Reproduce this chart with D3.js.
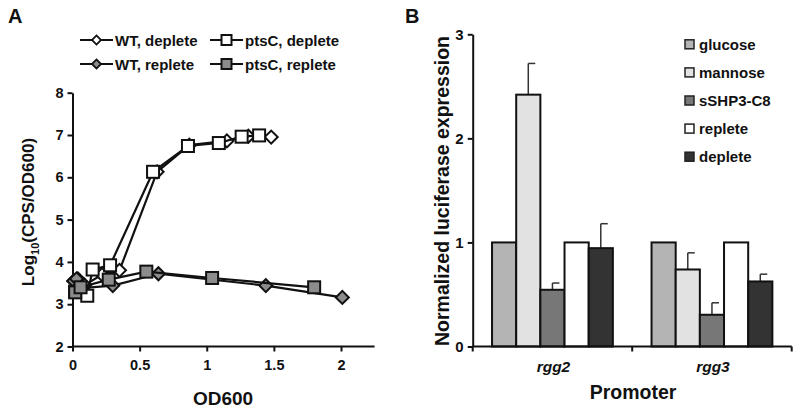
<!DOCTYPE html>
<html><head><meta charset="utf-8">
<script src="https://cdn.jsdelivr.net/npm/d3@7"></script>
<style>
body{margin:0;background:#fff;}
text{font-family:"Liberation Sans",Arial,sans-serif;font-weight:bold;fill:#111;}
</style></head>
<body><svg id="c" width="800" height="413"></svg>
<script>
// ---------- Panel A data ----------
const wtDepleteX  = [0.01, 0.04, 0.09, 0.22, 0.35, 0.63, 0.87, 1.15, 1.31, 1.48];
const wtDepleteY  = [3.55, 3.6, 3.45, 3.7, 3.8, 6.13, 6.76, 6.86, 6.97, 6.95];
const ptsDepleteX = [0.02, 0.06, 0.11, 0.15, 0.28, 0.60, 0.86, 1.09, 1.26, 1.39];
const ptsDepleteY = [3.3, 3.3, 3.2, 3.82, 3.92, 6.13, 6.74, 6.81, 6.96, 6.99];
const wtRepleteX  = [0.01, 0.03, 0.07, 0.30, 0.64, 1.44, 2.01];
const wtRepleteY  = [3.55, 3.6, 3.38, 3.44, 3.72, 3.44, 3.16];
const ptsRepleteX = [0.02, 0.06, 0.27, 0.55, 1.04, 1.80];
const ptsRepleteY = [3.28, 3.4, 3.58, 3.77, 3.62, 3.40];
const xTicksA = [0, 0.5, 1, 1.5, 2];
const yTicksA = [2, 3, 4, 5, 6, 7, 8];

// ---------- Panel B data ----------
const promoters = ["rgg2", "rgg3"];
const conditions = ["glucose", "mannose", "sSHP3-C8", "replete", "deplete"];
const condColors = ["#b4b4b4", "#e2e2e2", "#777777", "#ffffff", "#333333"];
const rgg2Values = [1, 2.42, 0.545, 1, 0.945];
const rgg2Errors = [0, 0.30, 0.065, 0, 0.235];
const rgg3Values = [1, 0.74, 0.305, 1, 0.625];
const rgg3Errors = [0, 0.16, 0.115, 0, 0.07];
const yTicksB = [0, 1, 2, 3];

const svg = d3.select("#c");

// ================= Panel A =================
const xA = d3.scaleLinear().domain([0, 2]).range([72.5, 341]);
const yA = d3.scaleLinear().domain([2, 8]).range([346.5, 92.7]);
const gA = svg.append("g");

svg.append("text").attr("x", 8).attr("y", 23).style("font-size", "20px").text("A");

// axes
const axAx = gA.append("g").attr("transform", `translate(0,${yA(2)})`)
  .call(d3.axisBottom(xA).tickValues(xTicksA).tickFormat(d3.format("")).tickSize(5).tickSizeOuter(0));
axAx.select(".domain").attr("d", `M${xA(0)},0H${xA(2.25)}`);
const ayAx = gA.append("g").attr("transform", `translate(${xA(0)},0)`)
  .call(d3.axisLeft(yA).tickValues(yTicksA).tickFormat(d3.format("d")).tickSize(5).tickSizeOuter(0));
[axAx, ayAx].forEach(a => {
  a.select(".domain").attr("stroke", "#111").attr("stroke-width", 2);
  a.selectAll(".tick line").attr("stroke", "#111").attr("stroke-width", 2);
  a.selectAll(".tick text").style("font-size", "14.5px").attr("fill", "#111")
   .style("font-family", "Liberation Sans, Arial").style("font-weight", "bold");
});
axAx.selectAll(".tick text").attr("dy", "1.05em");
ayAx.selectAll(".tick text").attr("x", -9);

// axis titles
svg.append("text").attr("x", 223).attr("y", 405).attr("text-anchor", "middle")
  .style("font-size", "19px").text("OD600");
const yt = svg.append("text").attr("transform", `translate(34,212) rotate(-90)`)
  .attr("text-anchor", "middle").style("font-size", "17px");
yt.append("tspan").text("Log");
yt.append("tspan").text("10").style("font-size", "11px").attr("dy", 5);
yt.append("tspan").text("(CPS/OD600)").attr("dy", -5);

function drawSeries(xs, ys, shape, fill) {
  const pts = xs.map((x, i) => [xA(x), yA(ys[i])]);
  gA.append("path").attr("d", d3.line()(pts)).attr("fill", "none")
    .attr("stroke", "#111").attr("stroke-width", 2.2);
  pts.forEach(p => {
    if (shape === "sq") {
      gA.append("rect").attr("x", p[0] - 6).attr("y", p[1] - 6).attr("width", 12).attr("height", 12)
        .attr("fill", fill).attr("stroke", "#111").attr("stroke-width", 2);
    } else {
      gA.append("path").attr("transform", `translate(${p[0]},${p[1]}) rotate(45)`)
        .attr("d", `M-4.6,-4.6H4.6V4.6H-4.6Z`)
        .attr("fill", fill).attr("stroke", "#111").attr("stroke-width", 2);
    }
  });
}
drawSeries(wtDepleteX, wtDepleteY, "dm", "#ffffff");
drawSeries(wtRepleteX, wtRepleteY, "dm", "#8c8c8c");
drawSeries(ptsDepleteX, ptsDepleteY, "sq", "#ffffff");
drawSeries(ptsRepleteX, ptsRepleteY, "sq", "#8c8c8c");

// legend A
const legA = [
  {label: "WT, deplete", shape: "dm", fill: "#fff", x: 80, y: 40},
  {label: "ptsC, deplete", shape: "sq", fill: "#fff", x: 210, y: 40},
  {label: "WT, replete", shape: "dm", fill: "#8c8c8c", x: 80, y: 64},
  {label: "ptsC, replete", shape: "sq", fill: "#8c8c8c", x: 210, y: 64}
];
legA.forEach(d => {
  svg.append("line").attr("x1", d.x).attr("x2", d.x + 33).attr("y1", d.y).attr("y2", d.y)
    .attr("stroke", "#111").attr("stroke-width", 2);
  const cx = d.x + 16.5;
  if (d.shape === "sq") {
    svg.append("rect").attr("x", cx - 5).attr("y", d.y - 5).attr("width", 10).attr("height", 10)
      .attr("fill", d.fill).attr("stroke", "#111").attr("stroke-width", 2);
  } else {
    svg.append("path").attr("transform", `translate(${cx},${d.y}) rotate(45)`)
      .attr("d", "M-3.2,-3.2H3.2V3.2H-3.2Z").attr("fill", d.fill).attr("stroke", "#111").attr("stroke-width", 1.8);
  }
  svg.append("text").attr("x", d.x + 35).attr("y", d.y + 5.5).style("font-size", "15px").text(d.label);
});

// ================= Panel B =================
svg.append("text").attr("x", 405).attr("y", 23).style("font-size", "20px").text("B");
const xB = d3.scaleBand().domain(promoters).range([472.7, 791.7]).paddingInner(0).paddingOuter(0);
const xInner = d3.scaleBand().domain(conditions).range([0, xB.bandwidth()]).paddingOuter(0.8).paddingInner(0);
const yB = d3.scaleLinear().domain([0, 3]).range([346.5, 34.3]);
const gB = svg.append("g");

const valuesBy = {rgg2: rgg2Values, rgg3: rgg3Values};
const errorsBy = {rgg2: rgg2Errors, rgg3: rgg3Errors};
promoters.forEach(p => {
  conditions.forEach((c, i) => {
    const v = valuesBy[p][i], e = errorsBy[p][i];
    const x0 = xB(p) + xInner(c), w = xInner.bandwidth();
    if (e > 0) {
      const cx = x0 + w / 2;
      gB.append("line").attr("x1", cx).attr("x2", cx).attr("y1", yB(v)).attr("y2", yB(v + e))
        .attr("stroke", "#333").attr("stroke-width", 1.5);
      gB.append("line").attr("x1", cx).attr("x2", cx + 7).attr("y1", yB(v + e)).attr("y2", yB(v + e))
        .attr("stroke", "#333").attr("stroke-width", 1.5);
    }
    gB.append("rect").attr("x", x0).attr("y", yB(v)).attr("width", w).attr("height", yB(0) - yB(v))
      .attr("fill", condColors[i]).attr("stroke", "#111").attr("stroke-width", 2);
  });
});

const byAx = gB.append("g").attr("transform", `translate(472.7,0)`)
  .call(d3.axisLeft(yB).tickValues(yTicksB).tickFormat(d3.format("d")).tickSize(5).tickSizeOuter(0));
const bxAx = gB.append("g").attr("transform", `translate(0,${yB(0)})`);
bxAx.append("line").attr("x1", 472.7).attr("x2", 791.7).attr("stroke", "#111").attr("stroke-width", 2);
[472.7, 632.2, 791.7].forEach(x => bxAx.append("line").attr("x1", x).attr("x2", x).attr("y1", 0).attr("y2", 5)
  .attr("stroke", "#111").attr("stroke-width", 2));
byAx.select(".domain").attr("stroke", "#111").attr("stroke-width", 2);
byAx.selectAll(".tick line").attr("stroke", "#111").attr("stroke-width", 2);
byAx.selectAll(".tick text").style("font-size", "15px").attr("fill", "#111").attr("x", -9)
  .style("font-family", "Liberation Sans, Arial").style("font-weight", "bold");

promoters.forEach(p => {
  svg.append("text").attr("x", xB(p) + xB.bandwidth() / 2 + 1).attr("y", 372).attr("text-anchor", "middle")
    .style("font-size", "15.5px").style("font-style", "italic").text(p);
});
svg.append("text").attr("x", 633).attr("y", 399).attr("text-anchor", "middle")
  .style("font-size", "19.5px").text("Promoter");
svg.append("text").attr("transform", `translate(449,191) rotate(-90)`).attr("text-anchor", "middle")
  .style("font-size", "19.5px").text("Normalized luciferase expression");

// legend B
conditions.forEach((c, i) => {
  const y = 44.3 + i * 28.1;
  svg.append("rect").attr("x", 685).attr("y", y - 4.5).attr("width", 9).attr("height", 9)
    .attr("fill", condColors[i]).attr("stroke", "#222").attr("stroke-width", 1.5);
  svg.append("text").attr("x", 699).attr("y", y + 5.5).style("font-size", "15px").text(c);
});
</script></body></html>
